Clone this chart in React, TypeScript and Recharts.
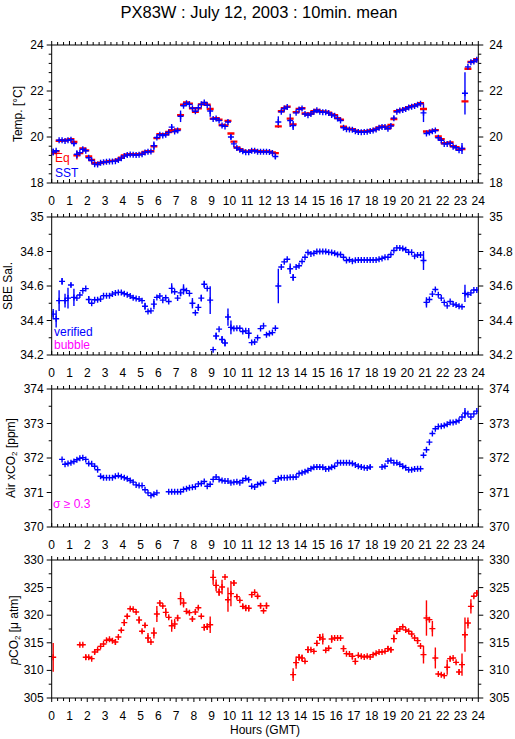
import React from 'react';
import { ComposedChart, Scatter, XAxis, YAxis, ErrorBar } from 'recharts';

const FONT = '"Liberation Sans", Arial, Helvetica, sans-serif';
const BLUE = '#0000ff';
const RED = '#ff0000';
const MAGENTA = '#ff00ff';

// 10-minute mean time grid (hours GMT, centre of each interval)
const hours: number[] = Array.from({ length: 144 }, (_, k) => (k + 0.5) / 6);
const hourTicks: number[] = Array.from({ length: 73 }, (_, i) => i / 3);
const hourLabels = [0, 1, 2, 3, 4, 5, 6, 7, 8, 9, 10, 11, 12, 13, 14, 15, 16, 17, 18, 19, 20, 21, 22, 23, 24];

// Temperature panel
const tempTicks = [18, 18.4, 18.8, 19.2, 19.6, 20, 20.4, 20.8, 21.2, 21.6, 22, 22.4, 22.8, 23.2, 23.6, 24];
const tempLabels = [18, 20, 22, 24];
const sst = [
  19.35, 19.4, 19.86, 19.86, 19.83, 19.86, 19.88, 19.72, 19.25, 19.32, 19.47, 19.4,
  19.1, 18.98, 18.82, 18.8, 18.88, 18.9, 18.92, 18.93, 18.94, 18.95, 19.0, 19.08,
  19.17, 19.22, 19.24, 19.23, 19.22, 19.23, 19.25, 19.33, 19.36, 19.37, 19.62, 19.98,
  20.1, 20.06, 20.1, 20.2, 20.43, 20.24, 20.28, 20.9, 21.36, 21.47, 21.42, 21.25,
  21.12, 21.27, 21.42, 21.5, 21.38, 21.13, 20.78, 20.8, 20.72, 20.5, 20.46, 20.65,
  20.0, 19.7, 19.52, 19.45, 19.38, 19.34, 19.34, 19.4, 19.4, 19.36, 19.36, 19.36,
  19.36, 19.35, 19.3, 19.15, 20.65, 21.1, 21.24, 21.3, 20.72, 20.5, 21.05, 21.2,
  21.24, 21.0, 20.95, 21.0, 21.1, 21.16, 21.1, 21.08, 21.08, 21.04, 20.96, 20.92,
  20.8, 20.72, 20.4, 20.34, 20.33, 20.32, 20.25, 20.22, 20.21, 20.22, 20.23, 20.26,
  20.28, 20.33, 20.4, 20.44, 20.43, 20.36, 20.48, 20.82, 21.1, 21.15, 21.17, 21.22,
  21.28, 21.32, 21.35, 21.4, 21.45, 21.05, 20.15, 20.2, 20.25, 20.28, 19.97, 19.86,
  19.7, 19.7, 19.73, 19.58, 19.53, 19.42, 19.5, 21.9, 23.05, 23.25, 23.28, 23.36,
];
const sstErr = [
  0.15, 0.05, 0, 0, 0, 0, 0, 0.1, 0.17, 0, 0, 0,
  0.05, 0, 0, 0, 0, 0, 0, 0, 0, 0, 0, 0,
  0, 0, 0, 0, 0, 0, 0, 0, 0, 0, 0.18, 0.05,
  0, 0, 0, 0, 0.08, 0, 0.1, 0.25, 0.05, 0, 0, 0,
  0, 0, 0, 0, 0, 0.25, 0, 0, 0, 0, 0, 0.05,
  0.1, 0, 0, 0, 0, 0, 0, 0, 0, 0, 0, 0,
  0, 0, 0, 0.1, 0.25, 0, 0, 0, 0.29, 0.2, 0, 0,
  0, 0, 0, 0, 0, 0, 0, 0, 0, 0, 0, 0,
  0, 0, 0, 0, 0, 0, 0, 0, 0, 0, 0, 0,
  0, 0, 0, 0, 0, 0, 0, 0.08, 0, 0, 0, 0,
  0, 0, 0, 0, 0, 0.4, 0, 0, 0, 0, 0, 0,
  0, 0, 0, 0, 0, 0, 0.24, 0.92, 0, 0, 0, 0,
];
const eq = [
  19.3, 19.38, 19.84, 19.86, 19.85, 19.88, 19.9, 19.78, 19.2, 19.3, 19.5, 19.42,
  19.15, 19.0, 18.86, 18.82, 18.88, 18.9, 18.93, 18.95, 18.96, 18.97, 19.02, 19.1,
  19.2, 19.24, 19.25, 19.24, 19.24, 19.25, 19.27, 19.35, 19.38, 19.38, 19.6, 19.95,
  20.12, 20.1, 20.12, 20.22, 20.3, 20.26, 20.33, 20.95, 21.4, 21.5, 21.45, 21.25,
  21.1, 21.25, 21.42, 21.48, 21.4, 21.22, 20.8, 20.82, 20.75, 20.52, 20.5, 20.7,
  20.15, 19.8, 19.55, 19.47, 19.4, 19.36, 19.36, 19.42, 19.42, 19.38, 19.37, 19.37,
  19.37, 19.36, 19.33, 19.3, 20.46, 21.12, 21.25, 21.32, 20.8, 20.55, 21.08, 21.22,
  21.25, 21.02, 20.97, 21.02, 21.12, 21.18, 21.12, 21.1, 21.1, 21.06, 20.98, 20.95,
  20.82, 20.75, 20.45, 20.36, 20.35, 20.34, 20.27, 20.24, 20.23, 20.24, 20.25, 20.28,
  20.3, 20.35, 20.42, 20.46, 20.45, 20.38, 20.52, 20.78, 21.12, 21.17, 21.19, 21.24,
  21.3, 21.34, 21.37, 21.42, 21.47, 21.22, 20.24, 20.22, 20.27, 20.3, 20.02, 19.9,
  19.73, 19.73, 19.76, 19.6, 19.56, 19.45, 19.48, 21.55, 22.97, 23.26, 23.3, 23.38,
];
const eqErr = [
  0, 0, 0, 0, 0, 0, 0, 0, 0.18, 0, 0, 0,
  0, 0, 0, 0, 0, 0, 0, 0, 0, 0, 0, 0,
  0, 0, 0, 0, 0, 0, 0, 0, 0, 0, 0, 0,
  0, 0, 0, 0, 0, 0, 0, 0, 0, 0, 0, 0,
  0, 0, 0, 0, 0, 0, 0, 0, 0, 0, 0, 0,
  0, 0, 0, 0, 0, 0, 0, 0, 0, 0, 0, 0,
  0, 0, 0, 0, 0, 0, 0, 0, 0, 0, 0, 0,
  0, 0, 0, 0, 0, 0, 0, 0, 0, 0, 0, 0,
  0, 0, 0, 0, 0, 0, 0, 0, 0, 0, 0, 0,
  0, 0, 0, 0, 0, 0, 0, 0, 0, 0, 0, 0,
  0, 0, 0, 0, 0, 0, 0, 0, 0, 0, 0, 0,
  0, 0, 0, 0, 0, 0, 0, 0, 0, 0, 0, 0,
];

// Salinity panel
const salTicks = [34.2, 34.3, 34.4, 34.5, 34.6, 34.7, 34.8, 34.9, 35];
const salLabels = [34.2, 34.4, 34.6, 34.8, 35];
const sal = [
  34.437, 34.41, 34.515, 34.627, 34.515, 34.53, 34.606, 34.534, 34.53, 34.548, 34.573, 34.585,
  34.522, 34.5, 34.52, 34.52, 34.524, 34.544, 34.544, 34.544, 34.553, 34.56, 34.563, 34.563,
  34.555, 34.55, 34.542, 34.532, 34.527, 34.525, 34.515, 34.483, 34.452, 34.456, 34.495, 34.534,
  34.542, 34.518, 34.532, 34.51, 34.586, 34.567, 34.53, 34.56, 34.58, 34.573, 34.557, 34.5,
  34.445, 34.476, 34.53, 34.61, 34.586, 34.518, 34.231, 34.31, 34.35, 34.29, 34.27, 34.42,
  34.36, 34.353, 34.355, 34.355, 34.336, 34.34, 34.326, 34.272, 34.275, 34.3, 34.353, 34.369,
  34.317, 34.324, 34.33, 34.355, 34.6, 34.71, 34.74, 34.755, 34.7, 34.65, 34.71, 34.717,
  34.742, 34.767, 34.794, 34.786, 34.79, 34.8, 34.8, 34.8, 34.8, 34.795, 34.794, 34.79,
  34.783, 34.783, 34.767, 34.748, 34.752, 34.744, 34.75, 34.751, 34.751, 34.751, 34.751, 34.751,
  34.751, 34.751, 34.755, 34.76, 34.767, 34.767, 34.783, 34.806, 34.821, 34.821, 34.817, 34.81,
  34.796, 34.795, 34.773, 34.78, 34.78, 34.748, 34.505, 34.522, 34.553, 34.58, 34.55, 34.53,
  34.505, 34.485, 34.51, 34.495, 34.49, 34.483, 34.48, 34.557, 34.55, 34.56, 34.577, 34.577,
];
const salErr = [
  0.03, 0.05, 0.06, 0.02, 0.04, 0.06, 0.01, 0.05, 0, 0, 0, 0,
  0.02, 0, 0, 0, 0, 0, 0, 0, 0, 0, 0, 0,
  0, 0, 0, 0, 0, 0, 0, 0.02, 0, 0, 0.03, 0,
  0, 0, 0, 0, 0.03, 0, 0, 0.02, 0.03, 0, 0, 0.03,
  0, 0.02, 0.02, 0.02, 0, 0.08, 0, 0.02, 0, 0.02, 0.02, 0.05,
  0.04, 0, 0, 0, 0, 0, 0.03, 0, 0, 0, 0, 0,
  0, 0, 0, 0, 0.1, 0, 0, 0, 0.03, 0.02, 0, 0,
  0, 0, 0, 0, 0, 0, 0, 0, 0, 0, 0, 0,
  0, 0, 0, 0, 0, 0, 0, 0, 0, 0, 0, 0,
  0, 0, 0, 0, 0, 0, 0, 0, 0, 0, 0, 0,
  0, 0, 0, 0, 0, 0.055, 0.03, 0, 0, 0, 0, 0,
  0, 0, 0, 0, 0, 0, 0, 0.05, 0, 0, 0, 0,
];

// Air xCO2 panel
const xco2Ticks = [370, 370.5, 371, 371.5, 372, 372.5, 373, 373.5, 374];
const xco2Labels = [370, 371, 372, 373, 374];
const xco2 = [
  null, null, null, 371.96, 371.82, 371.84, 371.86, 371.9, 371.95, 371.99, 372.01, 371.96,
  371.84, 371.83, 371.76, 371.66, 371.47, 371.43, 371.43, 371.43, 371.43, 371.47, 371.49, 371.46,
  371.43, 371.4, 371.35, 371.3, 371.22, 371.2, 371.2, 371.08, 370.99, 370.91, 370.95, 370.99,
  null, null, null, 371.02, 371.02, 371.02, 371.02, 371.02, 371.09, 371.11, 371.14, 371.15,
  371.17, 371.25, 371.26, 371.32, 371.18, 371.24, 371.38, 371.45, 371.38, 371.35, 371.33, 371.33,
  371.28, 371.3, 371.31, 371.28, 371.35, 371.41, 371.37, 371.18, 371.16, 371.23, 371.26, 371.29,
  null, null, null, 371.33, 371.4, 371.43, 371.43, 371.43, 371.44, 371.44, 371.45, 371.55,
  371.57, 371.6, 371.64, 371.69, 371.73, 371.74, 371.74, 371.73, 371.68, 371.69, 371.73, 371.76,
  371.86, 371.86, 371.86, 371.86, 371.86, 371.84, 371.8, 371.76, 371.74, 371.72, 371.71, 371.74,
  null, null, null, 371.74, 371.76, 371.91, 371.93, 371.86, 371.86, 371.82, 371.76, 371.72,
  371.66, 371.66, 371.68, 371.69, 371.69, 372.08, 372.24, 372.46, 372.71, 372.85, 372.91, 372.92,
  372.94, 372.98, 373.03, 373.03, 373.05, 373.09, 373.19, 373.3, 373.28, 373.19, 373.28, 373.36,
];
const xco2Err = [
  0, 0, 0, 0, 0, 0, 0, 0, 0, 0, 0, 0,
  0, 0, 0, 0, 0, 0, 0, 0, 0, 0, 0, 0,
  0, 0, 0, 0, 0, 0, 0, 0, 0, 0, 0, 0,
  0, 0, 0, 0, 0, 0, 0, 0, 0, 0, 0, 0,
  0, 0, 0, 0, 0, 0, 0, 0, 0, 0, 0, 0,
  0, 0, 0, 0, 0, 0, 0, 0, 0, 0, 0, 0,
  0, 0, 0, 0, 0, 0, 0, 0, 0, 0, 0, 0,
  0, 0, 0, 0, 0, 0, 0, 0, 0, 0, 0, 0,
  0, 0, 0, 0, 0, 0, 0, 0, 0, 0, 0, 0.06,
  0, 0, 0, 0, 0, 0, 0, 0, 0, 0, 0, 0,
  0, 0, 0, 0, 0, 0, 0, 0, 0, 0, 0, 0,
  0, 0, 0, 0, 0, 0, 0, 0.15, 0, 0, 0, 0,
];

// pCO2 panel
const pco2Ticks = [305, 307.5, 310, 312.5, 315, 317.5, 320, 322.5, 325, 327.5, 330];
const pco2Labels = [305, 310, 315, 320, 325, 330];
const pco2 = [
  312.37, null, null, null, null, null, null, null, null, 314.66, 314.66, 312.37,
  312.37, 312.13, 313.33, 313.75, 314.36, 314.78, 315.45, 315.63, 315.39, 315.15, 316.05, 317.26,
  318.65, 319.8, 321.18, 321.06, 320.58, 319.13, 317.08, 318.16, 315.87, 315.15, 316.78, 320.22,
  322.2, 321.67, 320.52, 319.61, 318.1, 318.4, 319.49, 323.0, 322.2, 320.7, 320.46, 319.31,
  320.58, 321.36, 319.8, 317.8, 317.92, 318.28, 326.86, 325.41, 324.2, 325.1, 326.92, 322.81,
  323.9, 325.83, 323.36, 322.69, 321.6, 321.3, 321.25, 323.72, 324.14, 323.42, 321.7, 320.8,
  321.7, null, null, null, null, null, null, null, null, 309.23, 311.4, 312.37,
  312.25, 311.64, 313.76, 313.76, 313.45, 314.9, 315.99, 315.69, 313.64, 314.0, 315.69, 315.87,
  315.87, 315.87, 313.94, 313.03, 312.97, 312.55, 311.64, 312.73, 312.55, 312.43, 312.55, 312.43,
  312.85, 313.09, 313.33, 313.33, 313.45, 313.94, 313.75, 315.75, 317.08, 317.5, 317.92, 317.32,
  317.08, 316.6, 315.87, 315.39, 314.42, 312.85, 319.49, 319.19, 317.56, 312.25, 309.35, 309.23,
  309.05, 310.56, 312.13, 312.25, 311.46, 309.71, 311.04, 316.47, 318.59, 321.6, 323.42, 324.02,
];
const pco2Err = [
  2.6, 0, 0, 0, 0, 0, 0, 0, 0, 0.2, 0.2, 0.5,
  0.2, 0.2, 0.4, 0.2, 0.2, 0.2, 0.2, 0.2, 0.2, 0.5, 0.2, 0.3,
  0.6, 0.4, 0.2, 0.2, 0.2, 0.7, 0.3, 0.4, 0.9, 0.2, 1.0, 1.45,
  0.3, 0.2, 0.8, 0.3, 1.1, 0.9, 0.6, 1.2, 0.8, 0.5, 0.2, 0.4,
  0.5, 0.4, 0.2, 0.6, 0.6, 1.5, 1.35, 1.05, 0.7, 1.3, 0.2, 2.2,
  2.3, 0.5, 0.4, 0.2, 0.4, 0.6, 0.6, 0.5, 0.2, 0.4, 0.5, 0.2,
  0.6, 0, 0, 0, 0, 0, 0, 0, 0, 1.15, 1.1, 0.6,
  0.65, 0.2, 0.6, 0.2, 0.2, 0.5, 0.6, 1.0, 0.2, 0.2, 0.7, 0.2,
  0.2, 0.2, 0.6, 0.2, 0.2, 0.6, 0.6, 0.2, 0.2, 0.2, 0.2, 0.2,
  0.2, 0.2, 0.2, 0.2, 0.2, 0.5, 0.5, 0.75, 0.5, 0.2, 0.2, 0.2,
  0.2, 0.5, 0.2, 0.6, 0.2, 1.6, 3.2, 0.4, 1.4, 1.9, 0.2, 0.2,
  0.2, 1.35, 0.5, 0.2, 0.2, 0.5, 2.0, 3.1, 1.0, 1.3, 0.2, 0.5,
];

type Pt = { h: number; v: number; e: number };
const build = (vals: (number | null)[], errs: number[]): Pt[] =>
  hours
    .map((h, k) => ({ h, v: vals[k] as number, e: errs[k] }))
    .filter((d) => d.v !== null && d.v !== undefined);

const isLabel = (v: number, labels: number[]) => labels.some((l) => Math.abs(l - v) < 1e-6);

const CrossShape = (props: any) => {
  const { cx, cy, color } = props;
  if (cx == null || cy == null || isNaN(cx) || isNaN(cy)) return <g />;
  return (
    <g>
      <line x1={cx - 3} x2={cx + 3} y1={cy} y2={cy} stroke={color} strokeWidth={1.4} />
      <line x1={cx} x2={cx} y1={cy - 3} y2={cy + 3} stroke={color} strokeWidth={1.4} />
    </g>
  );
};

const DashShape = (props: any) => {
  const { cx, cy, color } = props;
  if (cx == null || cy == null || isNaN(cx) || isNaN(cy)) return <g />;
  return <line x1={cx - 3.5} x2={cx + 3.5} y1={cy} y2={cy} stroke={color} strokeWidth={2.4} />;
};

type Series = { vals: (number | null)[]; errs: number[]; color: string; kind: 'cross' | 'dash' };

const TOPH = 10;
const PH = 138;
const BOTH = 26;
const W = 515;

function Panel(props: {
  top: number;
  domain: [number, number];
  yTicks: number[];
  yLabels: number[];
  fmt: (v: number) => string;
  series: Series[];
  bottomDown: boolean;
}) {
  const { top, domain, yTicks, yLabels, fmt, series, bottomDown } = props;
  const xTickBottom = (p: any) => {
    const v = p.payload.value;
    const major = Math.abs(v - Math.round(v)) < 1e-6;
    const len = major ? 4 : 3;
    return (
      <g>
        <line x1={p.x} x2={p.x} y1={p.y} y2={bottomDown ? p.y + len : p.y - len} stroke="#000" />
        {major && hourLabels.includes(Math.round(v)) ? (
          <text x={p.x} y={p.y + 17.5} textAnchor="middle" dominantBaseline="central" fontSize={12} fontFamily={FONT} fill="#000">
            {Math.round(v)}
          </text>
        ) : null}
      </g>
    );
  };
  const xTickTop = (p: any) => {
    const v = p.payload.value;
    const major = Math.abs(v - Math.round(v)) < 1e-6;
    const len = major ? 4 : 3;
    return <line x1={p.x} x2={p.x} y1={p.y} y2={p.y - len} stroke="#000" />;
  };
  const yTickLeft = (p: any) => {
    const v = p.payload.value;
    const major = isLabel(v, yLabels);
    const len = major ? 5 : 3;
    return (
      <g>
        <line x1={p.x} x2={p.x - len} y1={p.y} y2={p.y} stroke="#000" />
        {major ? (
          <text x={p.x - 8} y={p.y} textAnchor="end" dominantBaseline="central" fontSize={12} fontFamily={FONT} fill="#000">
            {fmt(v)}
          </text>
        ) : null}
      </g>
    );
  };
  const yTickRight = (p: any) => {
    const v = p.payload.value;
    const major = isLabel(v, yLabels);
    const len = major ? 5 : 3;
    return (
      <g>
        <line x1={p.x} x2={p.x + len} y1={p.y} y2={p.y} stroke="#000" />
        {major ? (
          <text x={p.x + 11} y={p.y} textAnchor="start" dominantBaseline="central" fontSize={12} fontFamily={FONT} fill="#000">
            {fmt(v)}
          </text>
        ) : null}
      </g>
    );
  };
  const anchor = build(series[0].vals, series[0].errs);
  return (
    <div style={{ position: 'absolute', left: 0, top: top - TOPH }}>
      <ComposedChart width={W} height={TOPH + PH + BOTH} margin={{ top: 0, right: 0, bottom: 0, left: 0 }}>
        <XAxis
          xAxisId="b"
          type="number"
          dataKey="h"
          domain={[0, 24]}
          allowDataOverflow
          orientation="bottom"
          height={BOTH}
          ticks={hourTicks}
          interval={0}
          tickSize={0}
          tickMargin={0}
          tickLine={false}
          axisLine={{ stroke: '#000' }}
          tick={xTickBottom}
        />
        <XAxis
          xAxisId="t"
          type="number"
          dataKey="h"
          domain={[0, 24]}
          allowDataOverflow
          orientation="top"
          height={TOPH}
          ticks={hourTicks}
          interval={0}
          tickSize={0}
          tickMargin={0}
          tickLine={false}
          axisLine={{ stroke: '#000' }}
          tick={xTickTop}
        />
        <YAxis
          yAxisId="l"
          type="number"
          dataKey="v"
          domain={domain}
          allowDataOverflow
          orientation="left"
          width={51.7}
          ticks={yTicks}
          interval={0}
          tickSize={0}
          tickMargin={0}
          tickLine={false}
          axisLine={{ stroke: '#000' }}
          tick={yTickLeft}
        />
        <YAxis
          yAxisId="r"
          type="number"
          dataKey="v"
          domain={domain}
          allowDataOverflow
          orientation="right"
          width={36.7}
          ticks={yTicks}
          interval={0}
          tickSize={0}
          tickMargin={0}
          tickLine={false}
          axisLine={{ stroke: '#000' }}
          tick={yTickRight}
        />
        <Scatter
          data={anchor}
          xAxisId="t"
          yAxisId="r"
          isAnimationActive={false}
          shape={() => <g />}
        />
        {series.map((s, i) => (
          <Scatter
            key={i}
            data={build(s.vals, s.errs)}
            xAxisId="b"
            yAxisId="l"
            isAnimationActive={false}
            shape={(p: any) =>
              s.kind === 'cross' ? <CrossShape {...p} color={s.color} /> : <DashShape {...p} color={s.color} />
            }
          >
            <ErrorBar dataKey="e" direction="y" width={0} stroke={s.color} strokeWidth={1.4} />
          </Scatter>
        ))}
      </ComposedChart>
    </div>
  );
}

const fmt0 = (v: number) => String(Math.round(v));
const fmt1 = (v: number) => (Math.abs(v - Math.round(v)) < 1e-6 ? String(Math.round(v)) : v.toFixed(1));

export default function App() {
  return (
    <div style={{ position: 'absolute', left: 0, top: 0, width: 515, height: 739, background: '#fff', fontFamily: FONT }}>
      <Panel
        top={44.7}
        domain={[18, 24]}
        yTicks={tempTicks}
        yLabels={tempLabels}
        fmt={fmt0}
        bottomDown={false}
        series={[
          { vals: eq, errs: eqErr, color: RED, kind: 'dash' },
          { vals: sst, errs: sstErr, color: BLUE, kind: 'cross' },
        ]}
      />
      <Panel
        top={216.6}
        domain={[34.2, 35]}
        yTicks={salTicks}
        yLabels={salLabels}
        fmt={fmt1}
        bottomDown={false}
        series={[{ vals: sal, errs: salErr, color: BLUE, kind: 'cross' }]}
      />
      <Panel
        top={388.6}
        domain={[370, 374]}
        yTicks={xco2Ticks}
        yLabels={xco2Labels}
        fmt={fmt0}
        bottomDown={false}
        series={[{ vals: xco2, errs: xco2Err, color: BLUE, kind: 'cross' }]}
      />
      <Panel
        top={560.4}
        domain={[305, 330]}
        yTicks={pco2Ticks}
        yLabels={pco2Labels}
        fmt={fmt0}
        bottomDown={true}
        series={[{ vals: pco2, errs: pco2Err, color: RED, kind: 'cross' }]}
      />
      <svg
        width={515}
        height={739}
        style={{ position: 'absolute', left: 0, top: 0, pointerEvents: 'none' }}
        fontFamily={FONT}
      >
        <text x={259} y={12} textAnchor="middle" dominantBaseline="central" fontSize={16.5} fill="#000">
          PX83W : July 12, 2003 : 10min. mean
        </text>
        <text transform="translate(17.5,114) rotate(-90)" textAnchor="middle" dominantBaseline="central" fontSize={12} fill="#000">
          Temp. [°C]
        </text>
        <text transform="translate(7.5,286) rotate(-90)" textAnchor="middle" dominantBaseline="central" fontSize={12} fill="#000">
          SBE Sal.
        </text>
        <text transform="translate(11,458) rotate(-90)" textAnchor="middle" dominantBaseline="central" fontSize={12} fill="#000">
          Air xCO<tspan fontSize={8} dy={3}>2</tspan>
          <tspan dy={-3}> [ppm]</tspan>
        </text>
        <text transform="translate(14,630) rotate(-90)" textAnchor="middle" dominantBaseline="central" fontSize={12} fill="#000">
          <tspan fontStyle="italic">p</tspan>CO<tspan fontSize={8} dy={3}>2</tspan>
          <tspan dy={-3}> [μ atm]</tspan>
        </text>
        <text x={55} y={162} fontSize={12} fill={RED}>Eq</text>
        <text x={55} y={176.5} fontSize={12} fill={BLUE}>SST</text>
        <text x={54} y={336} fontSize={12} fill={BLUE}>verified</text>
        <text x={54} y={349} fontSize={12} fill={MAGENTA}>bubble</text>
        <text x={53} y={508} fontSize={12} fill={MAGENTA}>σ ≥ 0.3</text>
        <text x={265} y={730} textAnchor="middle" dominantBaseline="central" fontSize={12} fill="#000">
          Hours (GMT)
        </text>
      </svg>
    </div>
  );
}
